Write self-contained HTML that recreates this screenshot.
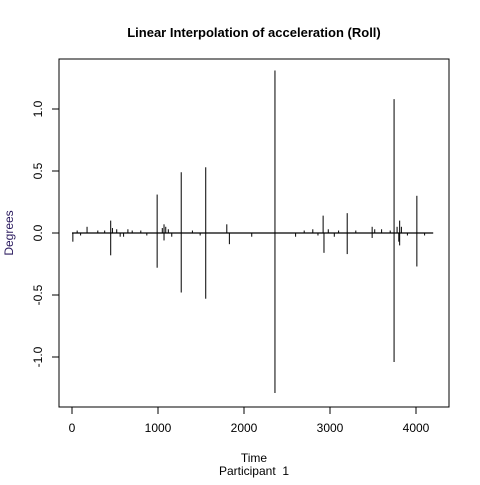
<!DOCTYPE html>
<html><head><meta charset="utf-8"><style>
body{margin:0;background:#fff}
svg text{font-family:"Liberation Sans",Arial,sans-serif;font-size:12px;fill:#000}
</style></head><body>
<svg id="chart" width="480" height="480" xmlns="http://www.w3.org/2000/svg">
<rect width="480" height="480" fill="#fff"/>
<text x="254" y="37" text-anchor="middle" font-weight="bold" style="font-size:13px">Linear Interpolation of acceleration (Roll)</text>
<text x="254" y="462" text-anchor="middle">Time</text>
<text x="254" y="475" text-anchor="middle" xml:space="preserve" style="white-space:pre">Participant  1</text>
<text transform="translate(13,233) rotate(-90)" text-anchor="middle" style="fill:#2a1a5e">Degrees</text>
<rect x="59" y="59" width="390" height="348" fill="none" stroke="#000"/>
<g id="axes"></g>
<g id="series"></g>
</svg>
<script>
const spikeTimes = [10,60,100,175,300,380,450,450,470,520,560,600,650,700,800,870,990,990,1050,1070,1070,1090,1120,1160,1270,1270,1400,1490,1555,1555,1800,1830,2090,2360,2360,2600,2700,2800,2860,2920,2930,2980,3050,3100,3200,3200,3300,3490,3490,3520,3600,3700,3745,3745,3780,3800,3810,3810,3830,3900,4010,4010,4100];
const spikeValues = [-0.07,0.02,-0.02,0.05,0.02,0.02,0.1,-0.18,0.04,0.03,-0.03,-0.03,0.03,0.02,0.02,-0.02,0.31,-0.28,0.04,0.07,-0.06,0.05,0.03,-0.03,0.49,-0.48,0.02,-0.02,0.53,-0.53,0.07,-0.09,-0.03,1.31,-1.29,-0.03,0.02,0.03,-0.02,0.14,-0.16,0.03,-0.03,0.02,0.16,-0.17,0.02,0.05,-0.04,0.03,0.03,0.02,1.08,-1.04,0.05,-0.07,0.1,-0.1,0.05,-0.02,0.3,-0.27,-0.02];
const xTicks = [0,1000,2000,3000,4000];
const yTicks = [-1.0,-0.5,0.0,0.5,1.0];
const yTickLabels = ["-1.0","-0.5","0.0","0.5","1.0"];
const tMax = 4200;
const NS="http://www.w3.org/2000/svg";
function xs(t){return 72+t*0.086;}
function ys(v){return 233-v*124;}
const ax=document.getElementById('axes'), se=document.getElementById('series');
function mk(tag,at,parent){const e=document.createElementNS(NS,tag);for(const k in at)e.setAttribute(k,at[k]);parent.appendChild(e);return e;}
mk('line',{x1:xs(0),x2:xs(4000),y1:407,y2:407,stroke:'#000'},ax);
xTicks.forEach(t=>{
  const l=mk('line',{x1:xs(t),x2:xs(t),y1:407,y2:414,stroke:'#000'},ax);
  
  
  const tx=mk('text',{x:xs(t),y:432,'text-anchor':'middle'},ax);tx.textContent=t;
  
  
});
mk('line',{x1:59,x2:59,y1:ys(-1),y2:ys(1),stroke:'#000'},ax);
yTicks.forEach((v,i)=>{
  const l=mk('line',{x1:52,x2:59,y1:ys(v),y2:ys(v),stroke:'#000'},ax);
  
  
  const tx=mk('text',{x:0,y:0,'text-anchor':'middle',transform:`translate(42,${ys(v)}) rotate(-90)`},ax);tx.textContent=yTickLabels[i];
  
  
});
const base=mk('line',{x1:xs(0),x2:xs(tMax),y1:ys(0),y2:ys(0),stroke:'#000','stroke-width':1.3},se);


spikeTimes.forEach((t,i)=>{
  const l=mk('line',{x1:xs(t),x2:xs(t),y1:ys(0),y2:ys(spikeValues[i]),stroke:'#000'},se);
  
  
});
</script>
</body></html>
